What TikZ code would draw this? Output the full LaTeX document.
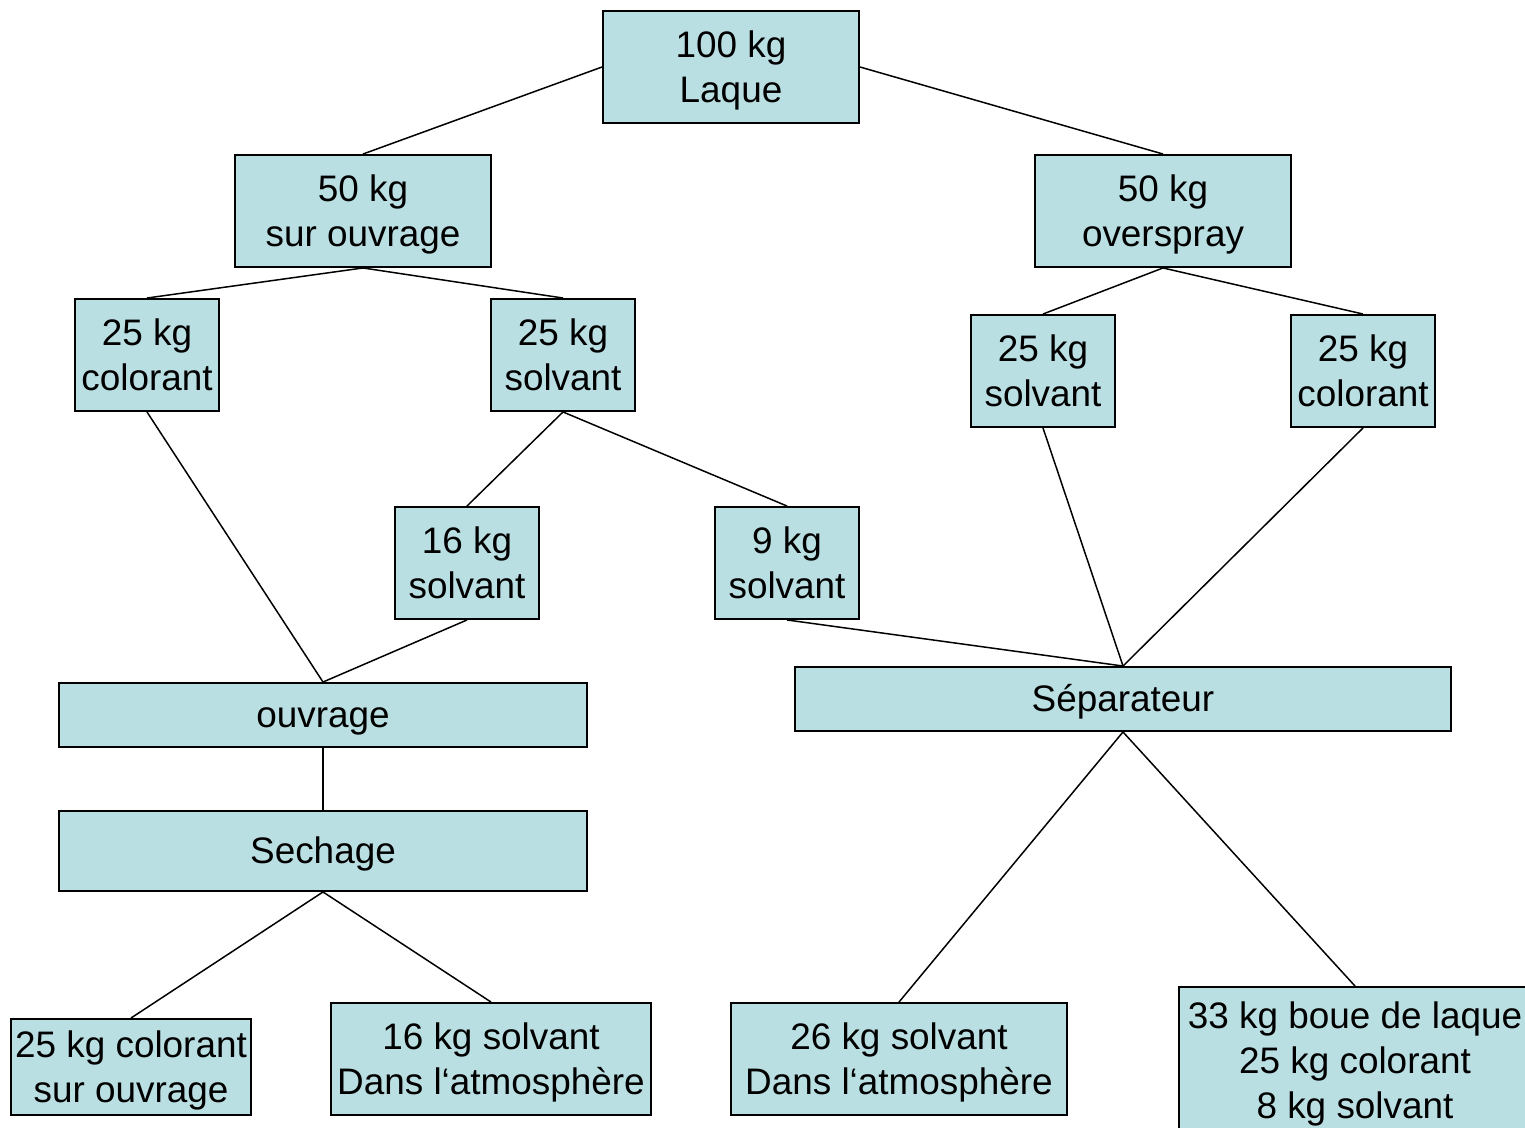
\documentclass[tikz,border=0pt]{standalone}
\usepackage{fontspec}
\setmainfont{Liberation Sans}
\usetikzlibrary{positioning}
\definecolor{boxfill}{RGB}{186,223,226}

\begin{document}
\begin{tikzpicture}[x=0.02cm,y=-0.02cm,
    b/.style={draw,fill=boxfill,line width=1.1pt,inner sep=0pt,align=center,
      font=\fontsize{21}{25.6}\selectfont,text height=20pt,text depth=5.4pt},
    two/.style={text height=45pt,text depth=5pt},
    three/.style={text height=70pt,text depth=4.6pt},
    sz/.style 2 args={minimum width=#1*0.02cm,minimum height=#2*0.02cm},
    l/.style={line width=0.85pt}]
    \useasboundingbox (0,0) rectangle (1525,1128);
    \node[b,two,sz={256}{112}] (laque) at (731,67) {100 kg\\Laque};
    \node[b,two,sz={256}{112}] (surouvrage) at (363,211) {50 kg\\sur ouvrage};
    \node[b,two,sz={256}{112}] (overspray) at (1163,211) {50 kg\\overspray};
    \node[b,two,sz={144}{112}] (colA) at (147,355) {25 kg\\colorant};
    \node[b,two,sz={144}{112}] (solA) at (563,355) {25 kg\\solvant};
    \node[b,two,sz={144}{112}] (solB) at (1043,371) {25 kg\\solvant};
    \node[b,two,sz={144}{112}] (colB) at (1363,371) {25 kg\\colorant};
    \node[b,two,sz={144}{112}] (sol16) at (467,563) {16 kg\\solvant};
    \node[b,two,sz={144}{112}] (sol9) at (787,563) {9 kg\\solvant};
    \node[b,sz={528}{64}] (ouvrage) at (323,715) {ouvrage};
    \node[b,sz={656}{64}] (sep) at (1123,699) {Séparateur};
    \node[b,sz={528}{80}] (sechage) at (323,851) {Sechage};
    \node[b,two,sz={240}{96}] (finA) at (131,1067) {25 kg colorant\\sur ouvrage};
    \node[b,two,sz={320}{112}] (finB) at (491,1059) {16 kg solvant\\Dans l‘atmosphère};
    \node[b,two,sz={336}{112}] (finC) at (899,1059) {26 kg solvant\\Dans l‘atmosphère};
    \node[b,three,sz={352}{148}] (finD) at (1355,1061) {33 kg boue de laque\\25 kg colorant\\8 kg solvant};
    \draw[l] (laque.west) -- (surouvrage.north);
    \draw[l] (laque.east) -- (overspray.north);
    \draw[l] (surouvrage.south) -- (colA.north);
    \draw[l] (surouvrage.south) -- (solA.north);
    \draw[l] (overspray.south) -- (solB.north);
    \draw[l] (overspray.south) -- (colB.north);
    \draw[l] (solA.south) -- (sol16.north);
    \draw[l] (solA.south) -- (sol9.north);
    \draw[l] (colA.south) -- (ouvrage.north);
    \draw[l] (sol16.south) -- (ouvrage.north);
    \draw[l] (sol9.south) -- (sep.north);
    \draw[l] (solB.south) -- (sep.north);
    \draw[l] (colB.south) -- (sep.north);
    \draw[l] (ouvrage.south) -- (sechage.north);
    \draw[l] (sechage.south) -- (finA.north);
    \draw[l] (sechage.south) -- (finB.north);
    \draw[l] (sep.south) -- (finC.north);
    \draw[l] (sep.south) -- (finD.north);
  \end{tikzpicture}
\end{document}
